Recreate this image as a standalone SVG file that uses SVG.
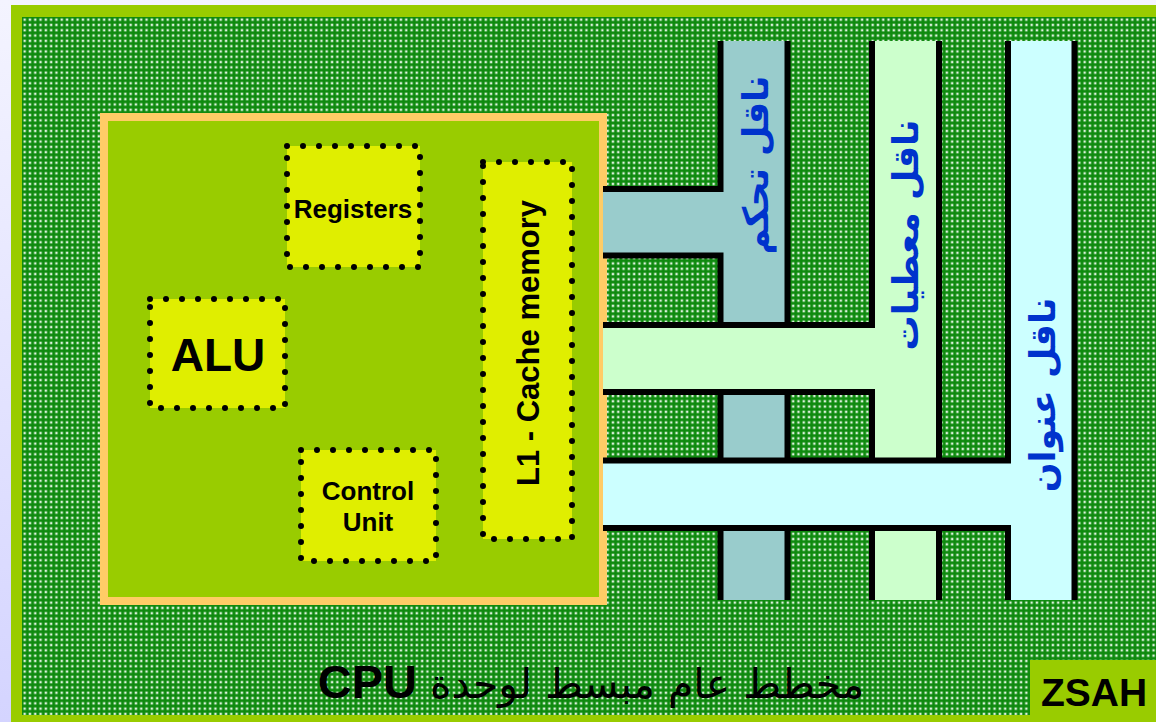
<svg xmlns="http://www.w3.org/2000/svg" width="1156" height="722" viewBox="0 0 1156 722">
<defs>
<linearGradient id="bgGrad" x1="0" y1="0" x2="0" y2="1">
<stop offset="0" stop-color="#f4f4ff"/>
<stop offset="1" stop-color="#d4d4ff"/>
</linearGradient>
<pattern id="dots" x="22" y="17" width="5.3" height="5.3" patternUnits="userSpaceOnUse">
<rect width="5.3" height="5.3" fill="#0f8a0f"/>
<rect x="1.4" y="1.4" width="2.5" height="2.5" fill="#b8e4b8"/>
<rect x="2" y="2" width="1.3" height="1.3" fill="#ffffff"/>
</pattern>
<style>
.dotbox{fill:#e0ee00;stroke:#000;stroke-width:6;stroke-dasharray:0 16;stroke-linecap:round}
.lbl{font-family:"Liberation Sans",Arial,sans-serif;font-weight:bold;fill:#000}
.bus{font-family:"DejaVu Sans",sans-serif;font-weight:bold;fill:#0033cc;font-size:35px}
.edge{fill:none;stroke:#000;stroke-width:6}
</style>
</defs>
<rect width="1156" height="722" fill="url(#bgGrad)"/>
<rect x="11" y="5" width="1145" height="717" fill="#99cc00"/>
<rect x="22" y="17" width="1134" height="698" fill="url(#dots)"/>

<g id="cpu">
<rect x="104" y="117" width="499" height="484" fill="#99cc00" stroke="#ffcc66" stroke-width="8"/>
</g>
<g id="registers">
<rect class="dotbox" x="287" y="146" width="133" height="121"/>
<text class="lbl" x="353" y="218" font-size="26" text-anchor="middle">Registers</text>
</g>
<g id="alu">
<rect class="dotbox" x="150" y="299" width="135" height="109"/>
<text class="lbl" x="218" y="371" font-size="46" text-anchor="middle">ALU</text>
</g>
<g id="control-unit">
<rect class="dotbox" x="301" y="450" width="135" height="111"/>
<text class="lbl" x="368" y="500" font-size="26" text-anchor="middle">Control</text>
<text class="lbl" x="368" y="531" font-size="26" text-anchor="middle">Unit</text>
</g>
<g id="l1-cache">
<rect class="dotbox" x="483" y="162" width="89" height="377"/>
<text class="lbl" transform="translate(539,343) rotate(-90)" font-size="31" text-anchor="middle">L1 - Cache memory</text>
</g>

<g id="connectors">
<g id="control-bus">
<path d="M603 189 H720 V41 H787 V600 H720 V256 H603 Z" fill="#99cccc"/>
<polyline class="edge" points="720.5,41 720.5,189 603,189"/>
<polyline class="edge" points="603,255.5 720.5,255.5 720.5,600"/>
<line class="edge" x1="787.5" y1="41" x2="787.5" y2="600"/>
<text class="bus" transform="translate(768,165) rotate(-90)" text-anchor="middle">ناقل تحكم</text>
</g>
<g id="data-bus">
<path d="M603 325 H872 V41 H939 V600 H872 V392 H603 Z" fill="#ccffcc"/>
<polyline class="edge" points="872,41 872,325 603,325"/>
<polyline class="edge" points="603,392 872,392 872,600"/>
<line class="edge" x1="939" y1="41" x2="939" y2="600"/>
<text class="bus" transform="translate(918,235) rotate(-90)" text-anchor="middle">ناقل معطيات</text>
</g>
<g id="address-bus">
<path d="M603 460.5 H1008 V41 H1074.5 V600 H1008 V528 H603 Z" fill="#ccffff"/>
<polyline class="edge" points="1008,41 1008,460.5 603,460.5"/>
<polyline class="edge" points="603,528 1008,528 1008,600"/>
<line class="edge" x1="1074.5" y1="41" x2="1074.5" y2="600"/>
<text class="bus" transform="translate(1055,395) rotate(-90)" text-anchor="middle">ناقل عنوان</text>
</g>
</g>

<g id="title">
<text x="591" y="698" text-anchor="middle" direction="rtl" font-family="'DejaVu Sans',sans-serif" font-size="41" fill="#000">مخطط عام مبسط لوحدة <tspan font-family="'Liberation Sans',Arial,sans-serif" font-weight="bold" font-size="47">CPU</tspan></text>
</g>
<g id="zsah">
<rect x="1030" y="660" width="126" height="62" fill="#99cc00"/>
<text class="lbl" x="1041" y="706" font-size="39">ZSAH</text>
</g>
</svg>
